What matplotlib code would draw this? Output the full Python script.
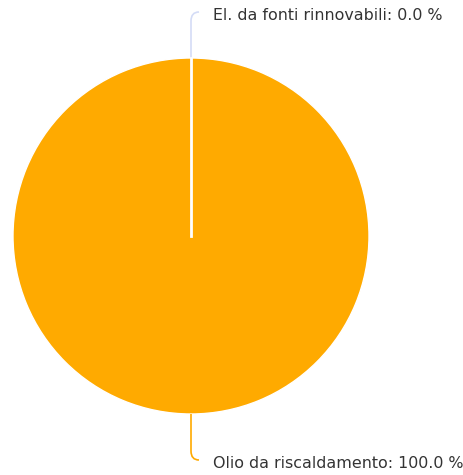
import matplotlib.pyplot as plt
from matplotlib.path import Path
from matplotlib.patches import PathPatch

labels = ["El. da fonti rinnovabili", "Olio da riscaldamento"]
values = [0.0, 100.0]
colors = ["#7cb5ec", "#ffaa00"]
line_colors = ["#d4dcf6", "#ffaa00"]

W, H = 464, 475
fig = plt.figure(figsize=(W / 100, H / 100), dpi=100)
ax = fig.add_axes([0, 0, 1, 1])

cx, cy, r = 191, H - 236, 178
ax.pie(values, colors=colors, startangle=90, counterclock=False,
       center=(cx, cy), radius=r, frame=True,
       wedgeprops=dict(edgecolor="white", linewidth=1))
# border of the empty slice
ax.plot([cx, cx], [cy, cy + r], color="white", lw=2)
ax.set_xlim(0, W)
ax.set_ylim(0, H)
ax.set_aspect("equal")
ax.axis("off")

# connectors + labels (top for first slice, bottom for second)
pcts = [v / sum(values) * 100 for v in values]
ends = [(H - 58, H - 12, H - 15, -1), (H - 414, H - 460, H - 463, 1)]
for lab, p, lc, (y0, yl, yt, s) in zip(labels, pcts, line_colors, ends):
    verts = [(cx, y0), (cx, yl + s * 9), (cx, yl), (cx + 8, yl)]
    codes = [Path.MOVETO, Path.LINETO, Path.CURVE3, Path.CURVE3]
    ax.add_patch(PathPatch(Path(verts, codes), fill=False, edgecolor=lc, lw=1.2))
    ax.text(213, yt, f"{lab}: {p:.1f} %", fontsize=11.4,
            color="#333333", va="center", ha="left")

fig.savefig("out.png", dpi=100)
